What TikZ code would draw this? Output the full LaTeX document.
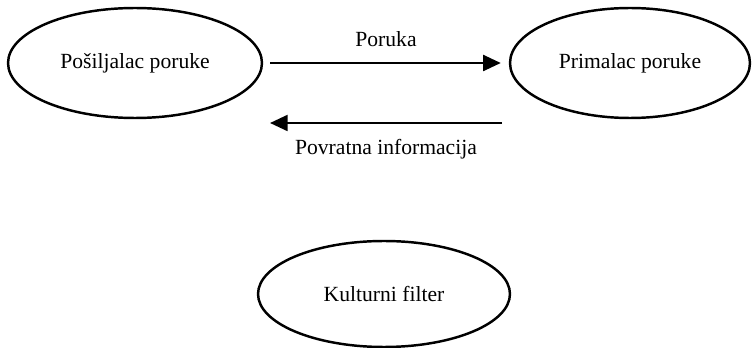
\documentclass[tikz,border=0pt]{standalone}
\usepackage{fontspec}
\setmainfont{Liberation Serif}
\usetikzlibrary{shapes.geometric,arrows.meta}

\tikzset{
  party/.style={ellipse,draw,line width=1.4pt,inner sep=0pt,font=\fontsize{12.3}{14}\selectfont},
  flow/.style={line width=1.4pt,-{Triangle[length=10pt,width=9pt]}},
  caption/.style={font=\fontsize{12.3}{14}\selectfont}
}

\begin{document}
\begin{tikzpicture}[x=0.02cm,y=-0.02cm]
	\useasboundingbox (0,0) rectangle (752,348);
	\coordinate (s) at (135,63);
	\coordinate (r) at (630,63);
	\coordinate (f) at (384,294);
	\coordinate (b1) at (502,123);
	\coordinate (b2) at (270,123);

	\node (sender) at (s) [party,minimum width=5.08cm,minimum height=2.2cm] {Pošiljalac poruke};
	\node (receiver) at (r) [party,minimum width=4.8cm,minimum height=2.2cm] {Primalac poruke};
	\node (filter) at (f) [party,minimum width=5.04cm,minimum height=2.12cm] {Kulturni filter};

	\draw[flow,shorten <=0.14cm,shorten >=0.16cm] (sender.east) to[] node[caption,above=5pt] {Poruka} (receiver.west);
	\draw[flow] (b1) to[] node[caption,below=5pt] {Povratna informacija} (b2);
\end{tikzpicture}
\end{document}
